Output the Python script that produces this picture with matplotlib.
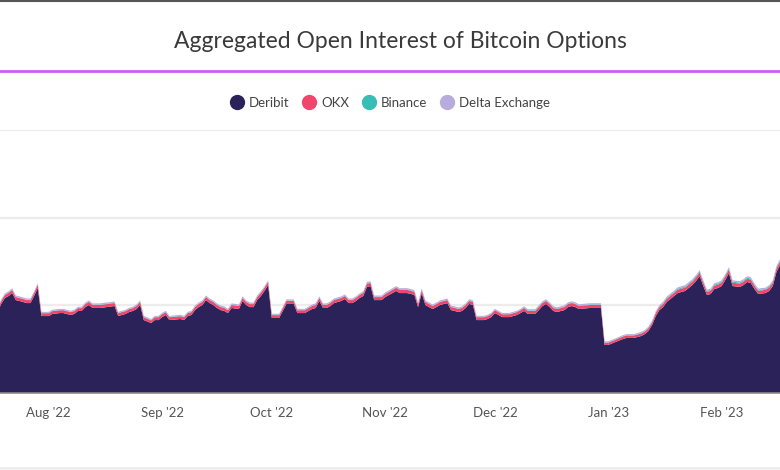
import matplotlib
matplotlib.use("Agg")
import matplotlib.pyplot as plt
import matplotlib.dates as mdates
from matplotlib.lines import Line2D
import pandas as pd

# days since 2022-07-19, values in USD billions
start_date = "2022-07-19"
day_offset = [
    -1, 0, 1, 2, 3, 4, 5, 6, 7, 8,
    9, 10, 11, 12, 13, 14, 16, 17, 19, 20,
    21, 22, 23, 24, 25, 27, 31, 32, 34, 35,
    36, 37, 38, 39, 41, 42, 43, 44, 45, 46,
    49, 50, 51, 52, 53, 54, 55, 56, 57, 58,
    59, 60, 61, 62, 63, 65, 66, 67, 68, 69,
    70, 71, 72, 73, 74, 76, 77, 78, 80, 81,
    83, 85, 86, 87, 88, 89, 90, 91, 93, 94,
    95, 96, 97, 98, 99, 100, 101, 102, 103, 104,
    105, 106, 107, 108, 109, 110, 111, 112, 113, 114,
    115, 116, 117, 118, 119, 120, 122, 123, 124, 125,
    126, 127, 128, 129, 130, 132, 133, 134, 135, 136,
    137, 139, 140, 141, 142, 143, 144, 146, 147, 148,
    149, 150, 151, 152, 154, 155, 156, 157, 158, 161,
    164, 165, 166, 168, 170, 171, 173, 175, 176, 177,
    178, 179, 180, 181, 182, 183, 184, 185, 186, 187,
    188, 189, 190, 191, 192, 193, 194, 195, 196, 197,
    198, 199, 200, 202, 203, 204, 205, 206, 207, 209,
    210, 211, 212, 213,
]
deribit = [
    4.62, 5.08, 5.42, 5.53, 5.70, 5.30, 5.25, 5.19, 5.13, 5.13,
    5.53, 5.99, 4.39, 4.39, 4.39, 4.51, 4.56, 4.56, 4.45, 4.51,
    4.68, 4.68, 4.90, 5.02, 4.85, 4.85, 4.96, 4.39, 4.51, 4.62,
    4.68, 4.79, 5.02, 4.16, 3.99, 4.16, 4.16, 4.33, 4.45, 4.16,
    4.22, 4.16, 4.39, 4.45, 4.73, 4.90, 5.02, 5.30, 5.13, 5.02,
    4.85, 4.73, 4.68, 4.56, 4.85, 4.79, 5.25, 5.02, 4.90, 4.90,
    5.30, 5.53, 5.82, 6.16, 4.28, 4.28, 4.68, 5.08, 5.08, 4.56,
    4.56, 4.79, 4.85, 5.25, 4.85, 4.85, 4.96, 5.13, 5.25, 5.36,
    5.13, 5.13, 5.25, 5.42, 5.53, 6.05, 6.10, 5.30, 5.30, 5.30,
    5.47, 5.59, 5.70, 5.82, 5.70, 5.70, 5.70, 5.65, 5.59, 4.90,
    5.70, 5.02, 4.90, 4.79, 4.90, 5.02, 5.13, 4.73, 4.68, 4.62,
    4.68, 4.85, 5.08, 5.02, 4.16, 4.16, 4.22, 4.33, 4.56, 4.45,
    4.33, 4.33, 4.39, 4.45, 4.56, 4.68, 4.51, 4.51, 4.73, 4.96,
    5.08, 4.90, 4.68, 4.62, 4.73, 4.90, 4.96, 4.90, 4.79, 4.85,
    4.85, 2.74, 2.74, 2.91, 3.08, 3.14, 3.14, 3.25, 3.36, 3.54,
    3.88, 4.39, 4.73, 4.90, 5.19, 5.36, 5.53, 5.70, 5.76, 5.82,
    5.99, 6.16, 6.39, 6.67, 6.10, 5.59, 5.65, 5.93, 5.99, 6.10,
    6.44, 6.84, 6.10, 6.05, 6.16, 6.33, 6.27, 5.93, 5.65, 5.70,
    5.82, 6.10, 6.90, 7.30,
]
okx = [
    0.17, 0.17, 0.17, 0.18, 0.18, 0.17, 0.17, 0.17, 0.17, 0.17,
    0.18, 0.18, 0.16, 0.16, 0.16, 0.16, 0.16, 0.16, 0.16, 0.16,
    0.16, 0.16, 0.17, 0.17, 0.17, 0.17, 0.17, 0.16, 0.16, 0.16,
    0.16, 0.17, 0.17, 0.16, 0.15, 0.16, 0.16, 0.16, 0.16, 0.16,
    0.16, 0.16, 0.16, 0.16, 0.17, 0.17, 0.17, 0.17, 0.17, 0.17,
    0.17, 0.17, 0.17, 0.16, 0.17, 0.17, 0.17, 0.17, 0.17, 0.17,
    0.17, 0.18, 0.18, 0.18, 0.16, 0.16, 0.16, 0.17, 0.17, 0.16,
    0.16, 0.17, 0.17, 0.17, 0.17, 0.17, 0.17, 0.17, 0.17, 0.17,
    0.17, 0.17, 0.17, 0.17, 0.18, 0.18, 0.18, 0.17, 0.17, 0.17,
    0.17, 0.17, 0.18, 0.18, 0.18, 0.18, 0.18, 0.18, 0.17, 0.17,
    0.17, 0.17, 0.17, 0.17, 0.17, 0.17, 0.17, 0.17, 0.17, 0.17,
    0.17, 0.17, 0.17, 0.17, 0.16, 0.16, 0.16, 0.16, 0.16, 0.16,
    0.16, 0.16, 0.16, 0.16, 0.16, 0.17, 0.17, 0.17, 0.17, 0.17,
    0.17, 0.17, 0.17, 0.17, 0.17, 0.17, 0.17, 0.17, 0.17, 0.17,
    0.17, 0.13, 0.13, 0.13, 0.14, 0.14, 0.14, 0.14, 0.14, 0.15,
    0.15, 0.17, 0.17, 0.18, 0.18, 0.18, 0.18, 0.19, 0.19, 0.19,
    0.19, 0.19, 0.20, 0.20, 0.19, 0.18, 0.18, 0.19, 0.19, 0.19,
    0.20, 0.20, 0.19, 0.19, 0.19, 0.19, 0.19, 0.19, 0.18, 0.18,
    0.19, 0.19, 0.20, 0.20,
]
binance = [
    0.02, 0.02, 0.02, 0.02, 0.02, 0.02, 0.02, 0.02, 0.02, 0.02,
    0.02, 0.02, 0.02, 0.02, 0.02, 0.02, 0.02, 0.02, 0.02, 0.02,
    0.02, 0.02, 0.02, 0.02, 0.02, 0.02, 0.02, 0.02, 0.02, 0.02,
    0.02, 0.02, 0.02, 0.02, 0.02, 0.02, 0.02, 0.02, 0.02, 0.02,
    0.02, 0.02, 0.02, 0.02, 0.02, 0.02, 0.02, 0.02, 0.02, 0.02,
    0.02, 0.02, 0.02, 0.02, 0.02, 0.02, 0.02, 0.02, 0.02, 0.02,
    0.02, 0.02, 0.02, 0.02, 0.02, 0.02, 0.02, 0.02, 0.02, 0.02,
    0.02, 0.02, 0.02, 0.02, 0.02, 0.02, 0.02, 0.02, 0.02, 0.02,
    0.02, 0.02, 0.02, 0.02, 0.02, 0.03, 0.03, 0.02, 0.02, 0.02,
    0.02, 0.02, 0.03, 0.03, 0.03, 0.03, 0.03, 0.03, 0.03, 0.02,
    0.03, 0.02, 0.02, 0.02, 0.02, 0.02, 0.02, 0.02, 0.02, 0.02,
    0.02, 0.02, 0.03, 0.03, 0.02, 0.02, 0.02, 0.02, 0.02, 0.02,
    0.02, 0.02, 0.02, 0.02, 0.02, 0.03, 0.03, 0.03, 0.03, 0.03,
    0.03, 0.03, 0.03, 0.03, 0.03, 0.03, 0.03, 0.03, 0.03, 0.03,
    0.03, 0.02, 0.02, 0.02, 0.02, 0.02, 0.02, 0.03, 0.03, 0.03,
    0.03, 0.04, 0.04, 0.05, 0.05, 0.05, 0.05, 0.06, 0.06, 0.06,
    0.06, 0.06, 0.06, 0.06, 0.06, 0.05, 0.05, 0.06, 0.06, 0.06,
    0.06, 0.06, 0.06, 0.06, 0.06, 0.06, 0.06, 0.05, 0.05, 0.05,
    0.06, 0.06, 0.06, 0.06,
]
delta_exchange = [
    0.07, 0.07, 0.07, 0.07, 0.07, 0.07, 0.07, 0.07, 0.07, 0.07,
    0.07, 0.07, 0.06, 0.06, 0.06, 0.06, 0.06, 0.06, 0.06, 0.06,
    0.06, 0.06, 0.07, 0.07, 0.07, 0.07, 0.07, 0.06, 0.06, 0.06,
    0.06, 0.07, 0.07, 0.06, 0.06, 0.06, 0.06, 0.06, 0.06, 0.06,
    0.06, 0.06, 0.06, 0.06, 0.07, 0.07, 0.07, 0.07, 0.07, 0.07,
    0.07, 0.07, 0.07, 0.06, 0.07, 0.07, 0.07, 0.07, 0.07, 0.07,
    0.07, 0.07, 0.07, 0.07, 0.06, 0.06, 0.06, 0.07, 0.07, 0.06,
    0.06, 0.07, 0.07, 0.07, 0.07, 0.07, 0.07, 0.07, 0.07, 0.07,
    0.07, 0.07, 0.07, 0.07, 0.07, 0.07, 0.07, 0.07, 0.07, 0.07,
    0.07, 0.07, 0.07, 0.07, 0.07, 0.07, 0.07, 0.07, 0.07, 0.07,
    0.07, 0.07, 0.07, 0.07, 0.07, 0.07, 0.07, 0.07, 0.07, 0.07,
    0.07, 0.07, 0.07, 0.07, 0.06, 0.06, 0.06, 0.06, 0.06, 0.06,
    0.06, 0.06, 0.06, 0.06, 0.06, 0.07, 0.07, 0.07, 0.07, 0.07,
    0.07, 0.07, 0.07, 0.07, 0.07, 0.07, 0.07, 0.07, 0.07, 0.07,
    0.07, 0.06, 0.06, 0.06, 0.06, 0.06, 0.06, 0.06, 0.06, 0.07,
    0.07, 0.07, 0.07, 0.08, 0.08, 0.08, 0.08, 0.08, 0.08, 0.08,
    0.08, 0.08, 0.08, 0.08, 0.08, 0.08, 0.08, 0.08, 0.08, 0.08,
    0.08, 0.08, 0.08, 0.08, 0.08, 0.08, 0.08, 0.08, 0.08, 0.08,
    0.08, 0.08, 0.08, 0.08,
]
series_names = ["Deribit", "OKX", "Binance", "Delta Exchange"]
series_colors = ["#2a2258", "#f0466c", "#38bdb6", "#b8acdf"]
month_ticks = ["2022-08-01", "2022-09-01", "2022-10-01", "2022-11-01",
               "2022-12-01", "2023-01-01", "2023-02-01"]
y_grid = [5, 10, 15]

plt.rcParams["font.family"] = ["Lato", "DejaVu Sans"]

dates = pd.Timestamp(start_date) + pd.to_timedelta(day_offset, unit="D")
x = mdates.date2num(dates.to_pydatetime())

fig = plt.figure(figsize=(7.8, 4.7), dpi=100)
ax = fig.add_axes([0.0, 0.1638, 1.0, 0.5596])

ax.stackplot(x, deribit, okx, binance, delta_exchange,
             colors=series_colors, linewidth=0, zorder=3)

x0 = mdates.date2num(pd.Timestamp(start_date)) - 0.33
ax.set_xlim(x0, x0 + 213.3)
ax.set_ylim(0, 15)

for g in y_grid:
    ax.axhline(g, color="#ececec", lw=1.6, zorder=1)

ax.set_xticks(mdates.date2num(pd.to_datetime(month_ticks).to_pydatetime()))
ax.xaxis.set_major_formatter(mdates.DateFormatter("%b '%y"))
ax.tick_params(axis="x", length=0, pad=10, labelsize=9.5, labelcolor="#555555")
ax.set_yticks([])
for side in ["top", "left", "right"]:
    ax.spines[side].set_visible(False)
ax.spines["bottom"].set_color("#8a8a8a")
ax.spines["bottom"].set_linewidth(1.2)
ax.spines["bottom"].set_zorder(5)

# header: title, accent rule, legend
fig.text(0.514, 0.912, "Aggregated Open Interest of Bitcoin Options",
         ha="center", va="center", fontsize=16.5, color="#3a3a3a")
fig.add_artist(Line2D([0, 1], [0.849, 0.849], color="#c562f0", lw=2.0))
fig.add_artist(Line2D([0, 1], [0.998, 0.998], color="#555555", lw=1.5))
fig.add_artist(Line2D([0, 1], [0.004, 0.004], color="#eeeeee", lw=2.0))

handles = [Line2D([], [], marker="o", ls="none", markersize=10,
                  markerfacecolor=c, markeredgecolor=c) for c in series_colors]
fig.legend(handles, series_names, loc="center", bbox_to_anchor=(0.5, 0.781),
           ncol=4, frameon=False, fontsize=9.5, labelcolor="#444444",
           handletextpad=0.4, columnspacing=1.0, handlelength=1.0)

fig.savefig("out.png", dpi=100)
